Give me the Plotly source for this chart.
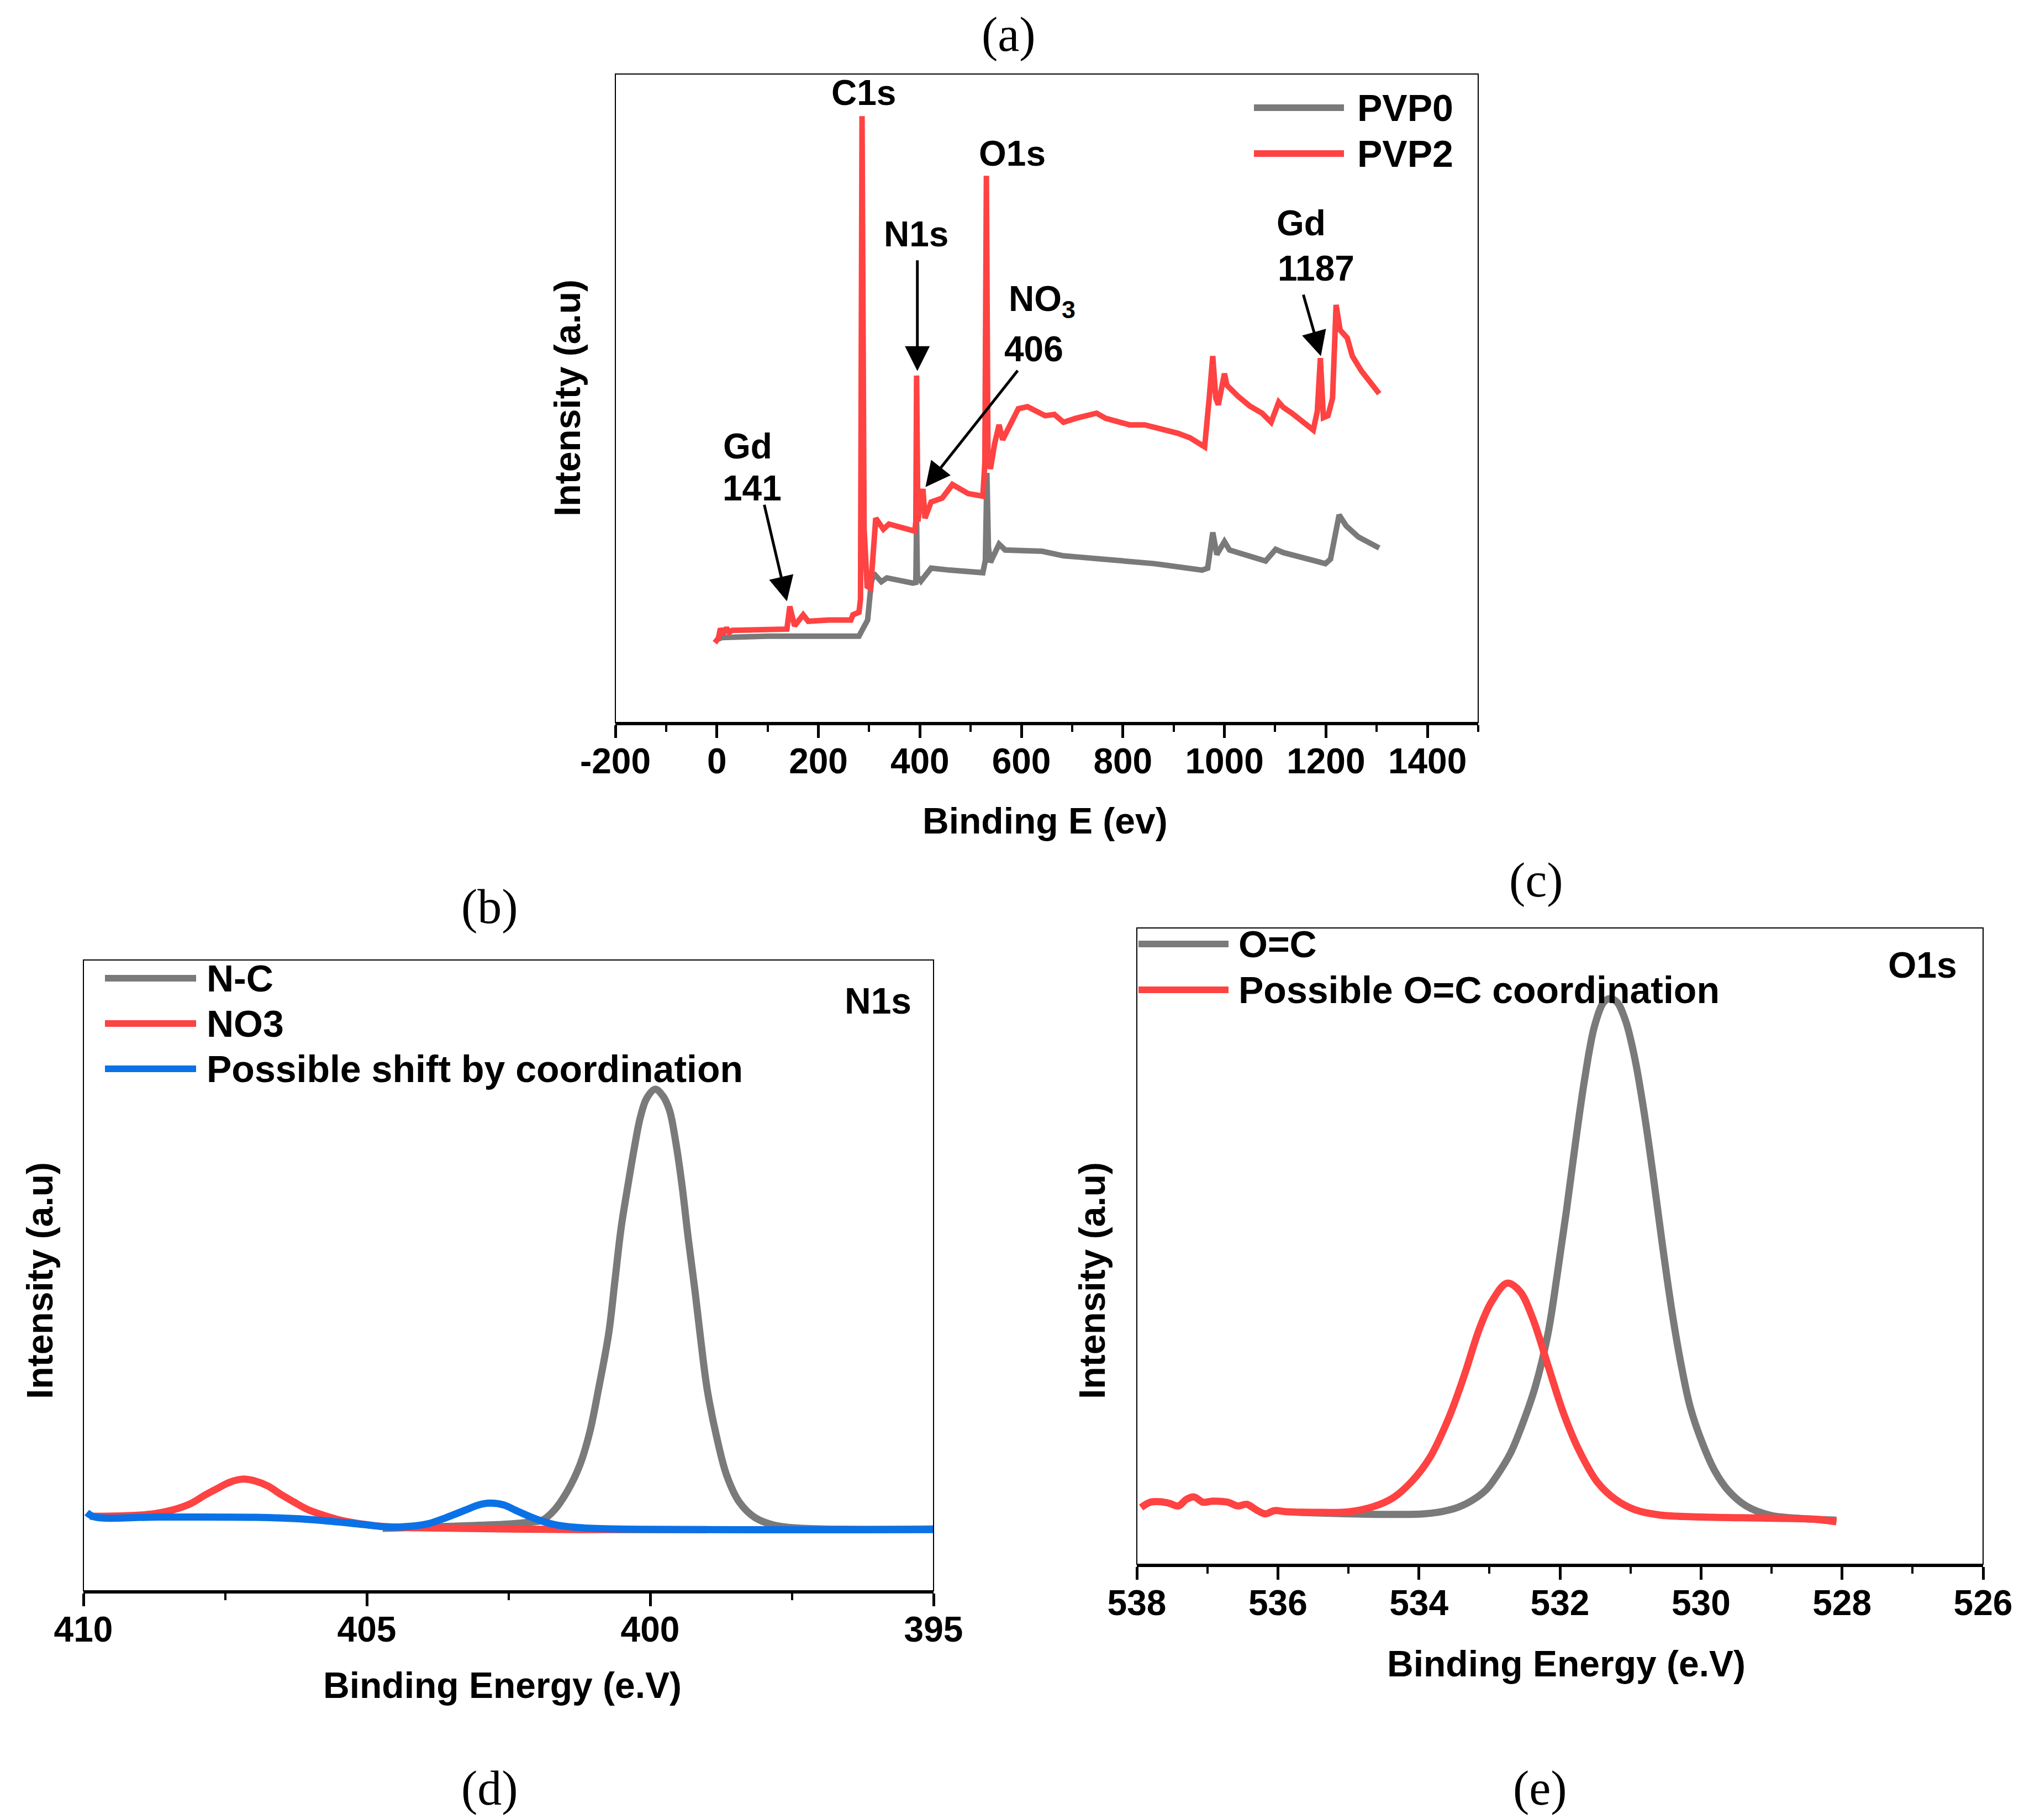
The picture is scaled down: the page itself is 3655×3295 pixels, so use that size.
import plotly.graph_objects as go

W, H = 3655, 3295
PAGE = 8  # browser body margin, content is drawn that much lower/right

# ---- panel (a): survey spectra ----
pvp0_ev = [0, 10, 100, 200, 280, 286, 297, 304, 309, 324, 335, 386, 392, 393.5, 395, 402,
           422, 458, 524, 529, 532, 535, 539, 556, 568, 641, 683, 714, 801, 861, 956, 967,
           977, 985, 1000, 1010, 1081, 1101, 1116, 1199, 1209, 1226, 1240, 1264, 1305]
pvp0_i = [12.8, 13.1, 13.3, 13.3, 13.3, 14.2, 15.8, 21.5, 23.0, 21.7, 22.3, 21.5, 21.6, 31.0, 22.5, 21.8,
          23.8, 23.5, 23.1, 25.0, 38.5, 27.0, 24.7, 27.5, 26.6, 26.4, 25.7, 25.5, 24.9, 24.5, 23.5, 23.8,
          29.3, 25.9, 27.9, 26.6, 24.9, 26.7, 26.2, 24.5, 25.2, 32.0, 30.3, 28.6, 26.9]

pvp2_ev = [-4, 3, 7, 12, 19, 24, 30, 50, 100, 132, 138, 143.7, 153, 170, 180, 220, 264, 268,
           280, 283, 286, 290, 296, 303, 313, 328, 339, 390, 392, 393.5, 396, 402, 406, 410,
           422, 444, 464, 495, 524, 528, 531, 534, 539, 547, 556, 563, 579, 594, 612, 630,
           647, 665, 683, 707, 730, 748, 766, 790, 813, 843, 861, 884, 908, 932, 956, 961,
           970, 977, 983, 988, 1000, 1005, 1027, 1050, 1074, 1092, 1107, 1116, 1133, 1157,
           1175, 1183, 1189, 1195, 1204, 1213, 1220, 1228, 1242, 1252, 1270, 1287, 1305]
pvp2_i = [12.3, 13.0, 14.5, 13.6, 14.6, 13.9, 14.2, 14.2, 14.2, 14.2, 14.4, 17.9, 14.9, 16.6, 15.6, 15.8, 15.8, 16.6,
          17.0, 19.0, 93.5, 30.0, 21.0, 20.7, 31.5, 29.8, 30.6, 29.5, 31.0, 53.5, 31.0, 34.5, 36.0, 31.5,
          34.0, 34.6, 36.7, 35.3, 34.9, 40.0, 84.3, 42.0, 39.1, 42.9, 45.9, 43.6, 45.9, 48.4, 48.7, 48.0,
          47.3, 47.5, 46.3, 46.9, 47.3, 47.7, 46.9, 46.3, 45.9, 45.9, 45.6, 45.1, 44.6, 43.9, 42.9, 42.5,
          50.0, 56.5, 50.0, 49.0, 53.8, 52.0, 50.3, 48.8, 47.7, 46.3, 49.4, 48.6, 47.7, 46.3,
          45.1, 48.0, 56.2, 47.0, 47.3, 50.0, 64.4, 60.5, 59.3, 56.5, 54.2, 52.5, 50.7]

# ---- panel (b): N1s ----
nc_ev = [404.72, 402.47, 402.1, 401.91, 401.69, 401.46, 401.24, 401.07, 400.90, 400.73, 400.62,
         400.51, 400.39, 400.28, 400.17, 400.06, 399.91, 399.78, 399.66, 399.55, 399.44, 399.33,
         399.21, 399.10, 398.99, 398.82, 398.65, 398.43, 398.15, 397.81, 397.30, 395.0]
nc_i = [9.9, 10.6, 10.9, 11.15, 12.8, 15.8, 19.95, 25.0, 32.5, 40.9, 49.3,
        57.7, 64.4, 70.2, 75.2, 78.1, 79.5, 78.5, 76.2, 71.2, 64.4, 56.0,
        47.6, 39.2, 31.7, 24.1, 18.3, 14.1, 11.6, 10.4, 9.9, 9.8]

no3_ev = [409.89, 409.21, 408.76, 408.43, 408.09, 407.87, 407.64, 407.42, 407.19, 406.97, 406.74,
          406.52, 406.29, 406.07, 405.84, 405.51, 405.17, 404.72, 404.16, 401.3, 399.0]
no3_i = [11.8, 11.9, 12.2, 12.8, 13.9, 15.1, 16.2, 17.2, 17.7, 17.4, 16.6,
         15.3, 14.1, 13.0, 12.2, 11.3, 10.7, 10.2, 10.0, 9.7, 9.7]

shift_ev = [409.94, 409.80, 408.65, 406.97, 406.18, 405.62, 405.06, 404.61, 404.27, 403.93, 403.60,
            403.26, 403.03, 402.83, 402.58, 402.36, 402.02, 401.69, 401.24, 400.67, 395.0]
shift_i = [12.4, 11.7, 11.7, 11.65, 11.4, 11.0, 10.5, 10.1, 10.2, 10.6, 11.6,
           12.8, 13.6, 13.9, 13.6, 12.7, 11.4, 10.5, 10.0, 9.8, 9.7]

# ---- panel (c): O1s ----
oc_ev = [535.69, 533.93, 533.58, 533.32, 533.05, 532.88, 532.70, 532.53, 532.35, 532.17, 532.04,
         531.91, 531.78, 531.65, 531.51, 531.38, 531.29, 531.19, 531.07, 530.94, 530.81, 530.68,
         530.55, 530.41, 530.28, 530.15, 529.97, 529.80, 529.62, 529.36, 529.01, 528.65, 528.08]
oc_i = [8.17, 7.92, 8.5, 9.58, 11.67, 14.17, 17.5, 22.08, 27.92, 36.25, 45.42,
        55.42, 66.25, 76.25, 84.58, 88.33, 88.92, 88.33, 85.42, 79.58, 71.25, 61.25,
        50.42, 39.58, 31.25, 24.58, 18.75, 14.58, 11.67, 9.17, 7.67, 7.25, 6.92]

coord_ev = [537.94, 537.81, 537.67, 537.54, 537.41, 537.30, 537.19, 537.06, 536.93, 536.71, 536.57,
            536.44, 536.31, 536.18, 536.05, 535.87, 535.52, 534.99, 534.64, 534.37, 534.11, 533.85,
            533.58, 533.36, 533.14, 532.97, 532.75, 532.57, 532.39, 532.17, 531.95, 531.73, 531.47,
            531.21, 530.94, 530.59, 529.97, 529.09, 528.39, 528.08]
coord_i = [8.92, 9.75, 9.83, 9.58, 9.17, 10.17, 10.58, 9.75, 9.92, 9.75, 9.17,
           9.42, 8.58, 7.92, 8.42, 8.25, 8.17, 8.25, 9.08, 10.42, 12.92, 16.67,
           22.92, 29.58, 37.08, 41.25, 44.17, 42.92, 38.75, 31.25, 23.75, 17.92, 12.92,
           10.17, 8.58, 7.75, 7.42, 7.25, 7.08, 6.67]

survey_ticks = [-200, 0, 200, 400, 600, 800, 1000, 1200, 1400]
survey_ticktext = ["-200", "0", "200", "400", "600", "800", "1000", "1200", "1400"]

GRAY = "#7a7a7a"
RED = "#ff4242"
BLUE = "#0a72e6"
SANS = "Liberation Sans"
SERIF = "Liberation Serif"


def px(x):
    return (x - PAGE) / W


def py(y):
    return 1 - (y - PAGE) / H


fig = go.Figure()

fig.add_trace(go.Scatter(x=pvp0_ev, y=pvp0_i, mode="lines", line=dict(color=GRAY, width=10),
                         name="PVP0", xaxis="x", yaxis="y", showlegend=False))
fig.add_trace(go.Scatter(x=pvp2_ev, y=pvp2_i, mode="lines", line=dict(color=RED, width=10),
                         name="PVP2", xaxis="x", yaxis="y", showlegend=False))

fig.add_trace(go.Scatter(x=nc_ev, y=nc_i, mode="lines", line=dict(color=GRAY, width=13, shape="spline"),
                         name="N-C", xaxis="x2", yaxis="y2", showlegend=False))
fig.add_trace(go.Scatter(x=no3_ev, y=no3_i, mode="lines", line=dict(color=RED, width=13, shape="spline"),
                         name="NO3", xaxis="x2", yaxis="y2", showlegend=False))
fig.add_trace(go.Scatter(x=shift_ev, y=shift_i, mode="lines", line=dict(color=BLUE, width=13, shape="spline"),
                         name="Possible shift by coordination", xaxis="x2", yaxis="y2", showlegend=False))

fig.add_trace(go.Scatter(x=oc_ev, y=oc_i, mode="lines", line=dict(color=GRAY, width=13, shape="spline"),
                         name="O=C", xaxis="x3", yaxis="y3", showlegend=False))
fig.add_trace(go.Scatter(x=coord_ev, y=coord_i, mode="lines", line=dict(color=RED, width=13, shape="spline"),
                         name="Possible O=C coordination", xaxis="x3", yaxis="y3", showlegend=False))

tickfont = dict(family=SANS, size=64, color="black", weight="bold")


def xax(domain, rng, dtick, minor_dtick, anchor):
    return dict(domain=domain, range=rng, anchor=anchor, dtick=dtick, tick0=rng[0],
                ticks="outside", ticklen=23, tickwidth=5, tickcolor="black",
                minor=dict(dtick=minor_dtick, ticks="outside", ticklen=12, tickwidth=4, tickcolor="black"),
                showline=True, linewidth=5, linecolor="black", showgrid=False, zeroline=False,
                tickfont=tickfont, ticklabelstandoff=-13, automargin=False)


def yax(domain, anchor):
    return dict(domain=domain, range=[0, 100], anchor=anchor, showticklabels=False, ticks="",
                showline=False, showgrid=False, zeroline=False, automargin=False)


fig.update_layout(
    width=W, height=H, margin=dict(l=0, r=0, t=0, b=0, pad=0, autoexpand=False),
    paper_bgcolor="white", plot_bgcolor="white",
    xaxis=xax([px(1114), px(2676)], [-200, 1500], 200, 100, "y"),
    yaxis=yax([py(1308), py(134)], "x"),
    xaxis2=xax([px(151), px(1690)], [410, 395], 5, 2.5, "y2"),
    yaxis2=yax([py(2880), py(1738)], "x2"),
    xaxis3=xax([px(2058), px(3590)], [538, 526], 2, 1, "y3"),
    yaxis3=yax([py(2832), py(1680)], "x3"),
)
fig.layout.xaxis.tickmode = "array"
fig.layout.xaxis.tickvals = survey_ticks
fig.layout.xaxis.ticktext = survey_ticktext

# thin frame around each plot area
for xr, yr in [("x", "y"), ("x2", "y2"), ("x3", "y3")]:
    fig.add_shape(type="rect", xref=f"{xr} domain", yref=f"{yr} domain", x0=0, x1=1, y0=0, y1=1,
                  line=dict(color="black", width=2), layer="above")

ann = []
lab = dict(family=SANS, size=66, color="black", weight="bold")

# axis titles
ann.append(dict(text="Binding E (ev)", x=px(1892), y=py(1486), font=lab))
ann.append(dict(text="Intensity (a.u)", x=px(1027), y=py(721), font=lab, textangle=-90))
ann.append(dict(text="Binding Energy (e.V)", x=px(909), y=py(3051), font=lab))
ann.append(dict(text="Intensity (a.u)", x=px(72), y=py(2319), font=lab, textangle=-90))
ann.append(dict(text="Binding Energy (e.V)", x=px(2835), y=py(3012), font=lab))
ann.append(dict(text="Intensity (a.u)", x=px(1977), y=py(2319), font=lab, textangle=-90))

# panel letters
serif = dict(family=SERIF, size=88, color="black")
for t, x, y in [("(a)", 1826, 62), ("(b)", 886, 1641), ("(c)", 2781, 1593), ("(d)", 886, 3237), ("(e)", 2788, 3237)]:
    ann.append(dict(text=t, x=px(x), y=py(y), font=serif))

for a in ann:
    a.update(xref="paper", yref="paper", showarrow=False, xanchor="center", yanchor="middle")

# peak labels in (a)
peak = dict(family=SANS, size=64, color="black", weight="bold")
for t, x, y in [("C1s", 289, 97.1), ("O1s", 582, 87.7), ("N1s", 393, 75.3), ("NO<sub>3</sub>", 641, 65.0),
                ("406", 624, 57.6), ("Gd", 1151, 77.0), ("1187", 1181, 70.0), ("Gd", 61, 42.6), ("141", 69, 36.1)]:
    ann.append(dict(text=t, x=x, y=y, xref="x", yref="y", showarrow=False, font=peak,
                    xanchor="center", yanchor="middle"))

# arrows in (a)
for hx, hy, tx, ty in [(395, 54.2, 395, 71.4), (411, 36.3, 594, 54.4), (1190, 56.5, 1155, 66.1), (138, 18.7, 93, 33.7)]:
    ann.append(dict(x=hx, y=hy, ax=tx, ay=ty, xref="x", yref="y", axref="x", ayref="y", text="",
                    showarrow=True, arrowhead=2, arrowsize=1.8, arrowwidth=5, arrowcolor="black"))

# corner labels
ann.append(dict(text="N1s", x=px(1652), y=py(1812), xref="paper", yref="paper", showarrow=False,
                font=dict(family=SANS, size=66, color="black", weight="bold"), xanchor="right", yanchor="middle"))
ann.append(dict(text="O1s", x=px(3545), y=py(1747), xref="paper", yref="paper", showarrow=False,
                font=dict(family=SANS, size=66, color="black", weight="bold"), xanchor="right", yanchor="middle"))

# hand drawn legends
legfont = dict(family=SANS, size=68, color="black", weight="bold")
legends = [
    (2270, 2433, 2455, [(195, GRAY, "PVP0"), (278, RED, "PVP2")]),
    (190, 355, 372, [(1771, GRAY, "N-C"), (1853, RED, "NO3"), (1935, BLUE, "Possible shift by coordination")]),
    (2061, 2224, 2240, [(1709, GRAY, "O=C"), (1792, RED, "Possible O=C coordination")]),
]
for x0, x1, xt, items in legends:
    for y, c, t in items:
        fig.add_shape(type="line", xref="paper", yref="paper", x0=px(x0), x1=px(x1), y0=py(y), y1=py(y),
                      line=dict(color=c, width=12))
        ann.append(dict(text=t, x=px(xt), y=py(y), xref="paper", yref="paper", showarrow=False,
                        font=legfont, xanchor="left", yanchor="middle"))

fig.update_layout(annotations=ann)

fig.write_html("out.html")
